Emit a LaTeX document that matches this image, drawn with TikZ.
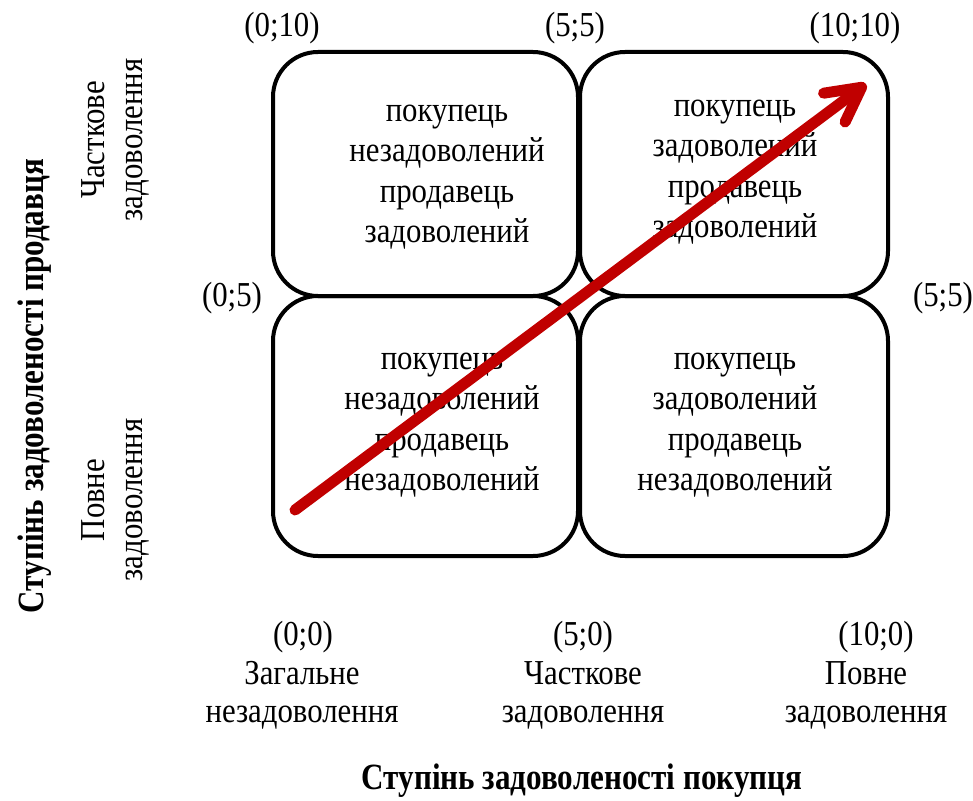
\documentclass[tikz,border=0pt]{standalone}
\usepackage{fontspec}
\setmainfont{Liberation Serif}[FakeStretch=0.88]
\newfontfamily\titlefont{Liberation Serif}[FakeStretch=0.84]
\usetikzlibrary{arrows.meta}
\definecolor{arrowred}{HTML}{C00000}
\begin{document}
\begin{tikzpicture}[x=1pt,y=-1pt,
  cell/.style={draw, line width=4pt, rounded corners=45pt, rectangle, inner sep=0},
  celltext/.style={font=\fontsize{35}{40.5}\selectfont, align=center, inner sep=0},
  lbl/.style={font=\fontsize{35}{38}\selectfont, align=center, inner sep=0},
  axis/.style={font=\titlefont\bfseries\fontsize{37}{40}\selectfont, inner sep=0},
  trend/.style={draw=arrowred, line width=11pt, line cap=round,
    -{Straight Barb[length=34pt, width=36pt, round]}}]
\useasboundingbox (0,0) rectangle (973,800);

% quadrants
\node[cell, minimum width=305pt, minimum height=244pt] (tl) at (425.5,174) {};
\node[cell, minimum width=308pt, minimum height=244pt] (tr) at (734,174) {};
\node[cell, minimum width=305pt, minimum height=260pt] (bl) at (425.5,426) {};
\node[cell, minimum width=308pt, minimum height=260pt] (br) at (734,426) {};

% quadrant texts
\node[celltext] (ttl) at (447,177) {покупець\\незадоволений\\продавець\\задоволений};
\node[celltext] (ttr) at (735,172) {покупець\\задоволений\\продавець\\задоволений};
\node[celltext] (tbl) at (442,425) {покупець\\незадоволений\\продавець\\незадоволений};
\node[celltext] (tbr) at (735,425) {покупець\\задоволений\\продавець\\незадоволений};

% corner coordinates
\node[lbl] (p010) at (282,28) {(0;10)};
\node[lbl] (p55t) at (575,28) {(5;5)};
\node[lbl] (p1010) at (855,28) {(10;10)};
\node[lbl] (p05) at (232,298) {(0;5)};
\node[lbl] (p55r) at (943,298) {(5;5)};
\node[lbl] (p00) at (303,637) {(0;0)};
\node[lbl] (p50) at (583,637) {(5;0)};
\node[lbl] (p100) at (876,637) {(10;0)};

% horizontal scale
\node[lbl] (hx0) at (302,695) {Загальне\\незадоволення};
\node[lbl] (hx1) at (583,695) {Часткове\\задоволення};
\node[lbl] (hx2) at (866,695) {Повне\\задоволення};

% vertical scale
\node[lbl, rotate=90] (vy1) at (115,140) {Часткове\\задоволення};
\node[lbl, rotate=90] (vy0) at (115,500) {Повне\\задоволення};

% axis titles
\node[axis] (xtitle) at (582,781) {Ступінь задоволеності покупця};
\node[axis, rotate=90] (ytitle) at (35,386) {Ступінь задоволеності продавця};

% trend arrow
\coordinate (arrS) at (295,510);
\coordinate (arrE) at (866,84);
\draw[trend] (arrS) -- (arrE);
\end{tikzpicture}
\end{document}
